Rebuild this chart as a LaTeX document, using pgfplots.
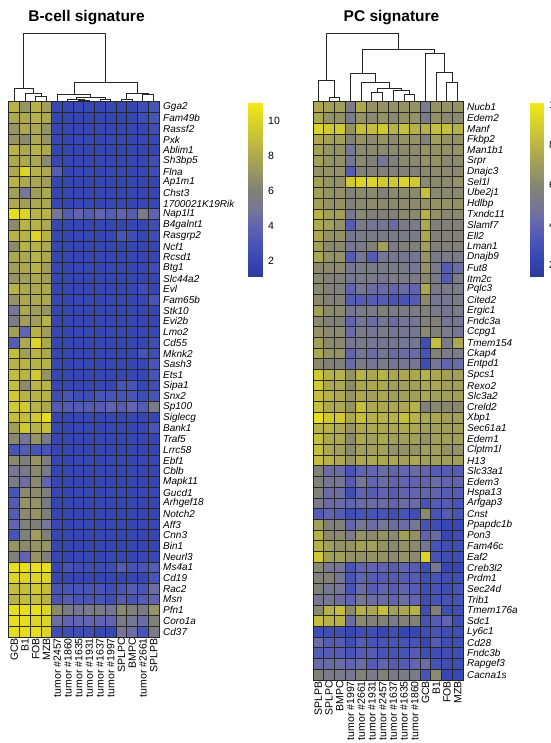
\documentclass[border=0pt]{standalone}
\usepackage{fontspec}
\setmainfont{Liberation Sans}
\usepackage{pgfplots}
\usepackage{pgfplotstable}
\pgfplotsset{compat=1.18}

% blue -> grey -> yellow expression scale
\pgfplotsset{
  colormap={bgy}{rgb255=(44,56,155) rgb255=(54,70,178) rgb255=(72,84,182)
    rgb255=(98,100,178) rgb255=(118,118,150) rgb255=(128,128,122)
    rgb255=(150,148,100) rgb255=(172,168,80) rgb255=(196,190,60)
    rgb255=(220,212,40) rgb255=(242,232,24)},
  hmcell/.style={scatter, only marks, mark=square*, mark size=5.36pt,
    point meta=explicit,
    scatter/use mapped color={draw=black!85, fill=mapped color},
    mark options={line width=1pt}},
  dendro/.style={draw=black!85, line width=0.9pt, mark=none, point meta=none},
  hmaxis/.style={anchor=center, scale only axis, width=150pt,
    xmin=-0.5, xmax=13.5, y dir=reverse,
    axis line style={draw=black!85, line width=1pt},
    major tick length=0pt, xtick={0,...,13},
    x tick label style={rotate=90, anchor=east, inner sep=1pt,
      font=\fontsize{10.5}{12}\selectfont},
    yticklabel pos=right,
    y tick label style={anchor=west, inner sep=0pt, xshift=4pt,
      font=\fontsize{10}{11}\selectfont\itshape},
    colormap name=bgy},
  dendroaxis/.style={anchor=center, scale only axis, width=150pt, height=70pt,
    xmin=-0.5, xmax=13.5, ymin=0, ymax=70, hide axis, clip=false},
  cbaxis/.style={anchor=center, scale only axis, width=14pt, height=174pt,
    xmin=0, xmax=1, colormap name=bgy, axis line style={draw=none},
    xtick=\empty, ytick={2,4,6,8,10}, major tick length=0pt,
    yticklabel pos=right,
    y tick label style={anchor=west, inner sep=0pt, xshift=6pt,
      font=\fontsize{10.5}{12}\selectfont},
    /pgf/number format/assume math mode=true}
}

% B-cell signature genes (columns in the clustered order of the panel)
\pgfplotstableread{
c0 c1 c2 c3 c4 c5 c6 c7 c8 c9 c10 c11 c12 c13 gene
8.5 7 8.5 7.5 2 2 2 2 2 2 2 2 2.5 3 Gga2
8 8 8.5 8 2 2 2 2 2 2 2 2 2.5 3 Fam49b
7 8 8 7 2 2 2 2 2 2 2 2 2 2.5 Rassf2
7 6.5 8 7 2 2 2 2 2 2 2 2 2 2 Pxk
8.5 8 8.5 8 2 2 2 2 2 2 2 2 2 2 Ablim1
8 8 8 6.5 2 2 2 2 2 2 2 2 2 2.5 Sh3bp5
8 10 8.5 8 3.5 2 2 2 2 2 2 2 2 2.5 Flna
8.5 8 8 7.5 2 2 2 2 2 2 2 2 2 2 Ap1m1
7.5 5 7.5 8 2 2 2 2 2 2 2 2 2 2 Chst3
8 7.5 8 8 2 2 2 2 2 2 2 2 2 2 1700021K19Rik
10.5 10 8.5 8.5 5 3.5 4 3.5 4 3.5 4 3.5 5.5 4 Nap1l1
6.5 8.5 8.5 8 2 2 2 2 2 2 2 2 2 2.5 B4galnt1
8.5 8.5 10 8.5 2 2 2 2 2 2 3 2.5 2 2.5 Rasgrp2
6.5 8.5 8.5 8 2 2 2 2 2 2 2 2 2 2 Ncf1
8 8 8.5 8 2 2 2 2 2 2 2 2 2 2 Rcsd1
7.5 8 8.5 7.5 2 2 2 2 2 2 2 2 2 2.5 Btg1
7 7.5 8 7.5 2 2 2 2 2 2 2 2 2 2 Slc44a2
8.5 8 8 8 2 2 2 2 2 2 2 2 2.5 2 Evl
7 8 8 8 2 2 2 2 2 2 2 2 2 3 Fam65b
5 8 7.5 7 2 2 2 2 2 2 2 2 2 2 Stk10
5.5 7.5 7.5 8.5 2 2 2 2 2 2 2 2 2 2 Evi2b
7.5 4 8.5 7.5 2 2 2 2 2 2 2 2 2 2 Lmo2
3.5 8 10 8 2 2 2 2 2 2 2 2 2 2.5 Cd55
9 7.5 8.5 8 2 2 2 2 2 2 2 2 3 2.5 Mknk2
8.5 8.5 8.5 8.5 2 2 2 2 2 2 2 2 2 3 Sash3
9 8.5 9.5 7 2 2 2 2 2 2 2 2 2 3 Ets1
9 6.5 8.5 8.5 2 2 2 2 2 2 3 3 2 2.5 Sipa1
9.5 8.5 8.5 8.5 2.5 3 2.5 2.5 3 3 3 3 2.5 3 Snx2
9.5 9.5 8.5 8 3.5 3.5 3.5 3.5 3.5 4 3.5 4 3.5 5.5 Sp100
9 9 9.5 10.5 2 2 2 2 2 2 2 2 2 2 Siglecg
7.5 9.5 8.5 9 2 2 2 2 2 2 2 2 2 3 Bank1
6.5 5 7 5.5 2 2 2 2 2 2 2 2 2 2 Traf5
3 3.5 3 3 2 2 2 2 2 2 2 2 2 2 Lrrc58
6.5 6 7 6 2 2 2 2 2 2 2 2 2 2 Ebf1
5 5.5 6.5 5.5 2 2 2 2 2 2 2 2 2 2 Cblb
5.5 4.5 6.5 4 2 2 2 2 2 2 2 2 2 2 Mapk11
3 6.5 6.5 6 2 2 2 2 2 2 2 2 2 2 Gucd1
3.5 7 7 5.5 2 2 2 2 2 2 2 2 2 2 Arhgef18
3.5 6.5 7 6 2 2 2 2 2 2 2 2 2 2 Notch2
4 6 6 5 2 2 2 2 2 2 2 2 2 2 Aff3
3 6 7.5 6 2 2 2 2 2 2 2 2 2 2 Cnn3
7 6.5 7 7 2 2 2 2 2 2 2 2 2 2 Bin1
6 4 7 6 2 2 2 2 2 2 2 2 2 2 Neurl3
10.5 10.5 10.5 10.5 2 3 2.5 2.5 2.5 2.5 3.5 3 3 3.5 Ms4a1
10 10 10 10 2 2 2 2 2 2 2 2 2 3 Cd19
9 9 9.5 9 3 3 3 3 3 2.5 3 3.5 3 4.5 Rac2
8.5 9 9 8.5 3 3.5 3 3 3 2.5 3.5 3 3.5 4 Msn
10.5 10.5 10.5 10 6.5 5.5 5 5.5 5.5 5 6.5 6 5.5 7 Pfn1
10.5 10.5 10 10 4.5 4 4 4 4 4 5.5 5 4.5 6 Coro1a
10.5 10.5 10.5 10 2.5 2.5 2.5 2.5 2 2 5 4.5 3 5.5 Cd37
}\Bdata

% plasma-cell signature genes
\pgfplotstableread{
c0 c1 c2 c3 c4 c5 c6 c7 c8 c9 c10 c11 c12 c13 gene
7.5 7.1 7.1 5.3 7.5 6.6 6.6 6.6 6.6 6.6 5.3 6.6 6.6 6.6 Nucb1
7.5 6.6 6.6 5.3 6.6 6.2 6.6 6.2 6.6 6.6 5.3 6.6 6.2 6.2 Edem2
9.2 8.8 8.8 6.6 8.4 8.4 8.8 7.9 8.4 7.9 7.9 8.4 8.4 7.9 Manf
7.5 7.1 7.1 5.8 6.6 6.2 6.6 6.2 6.6 6.6 5.8 7.1 6.6 6.6 Fkbp2
7.1 6.6 6.6 4.9 6.2 6.2 6.2 6.2 6.2 6.2 6.6 6.6 6.6 6.6 Man1b1
7.1 6.6 6.6 4.9 6.2 5.8 4.9 5.8 6.2 6.2 6.6 6.6 6.2 6.2 Srpr
6.6 6.6 6.6 3.6 5.8 5.8 5.8 5.8 5.8 5.8 6.2 6.2 6.2 6.2 Dnajc3
7.1 6.6 6.6 8.8 9.2 9.2 8.8 8.8 9.2 8.8 6.2 6.2 6.2 6.6 Sel1l
7.1 6.6 6.6 5.8 6.2 6.2 5.8 6.2 6.2 6.2 8.4 6.2 6.2 6.2 Ube2j1
7.1 6.6 6.6 5.8 6.2 6.2 6.2 6.2 6.2 6.2 6.6 6.6 6.6 6.6 Hdlbp
7.9 7.1 7.1 4.9 6.2 5.8 5.8 5.8 6.2 6.2 7.9 6.6 6.2 6.2 Txndc11
7.5 7.1 6.6 3.6 5.3 4.9 4.9 4.4 5.3 5.3 7.5 5.8 5.8 5.8 Slamf7
7.5 6.6 6.6 4.9 5.3 5.3 5.3 5.3 5.3 5.3 7.5 5.8 5.8 5.8 Ell2
7.1 6.2 6.2 4.9 5.3 5.8 7.1 5.3 5.8 5.8 7.1 5.8 5.8 5.8 Lman1
7.5 6.6 6.6 3.6 4.9 3.6 4.9 4.9 4.9 4.9 6.6 5.3 5.3 5.3 Dnajb9
6.2 6.2 6.2 4.9 5.3 5.3 5.3 5.3 5.3 4.9 6.6 5.3 3.6 4.4 Fut8
6.2 5.8 5.8 4.9 5.3 5.3 4.9 5.3 5.3 5.3 6.2 5.3 3.6 5.3 Itm2c
6.2 5.8 5.8 4.0 4.9 4.4 4.4 4.0 4.4 4.0 7.5 5.3 5.3 5.3 Pqlc3
6.2 5.8 5.8 3.6 3.6 3.6 3.6 3.1 3.1 3.6 6.2 4.9 4.9 5.3 Cited2
7.1 6.2 6.2 4.9 5.3 5.3 5.8 5.3 5.3 5.3 5.8 5.3 4.9 5.3 Ergic1
6.2 5.8 5.8 4.0 4.9 4.4 4.9 4.4 4.9 4.9 5.8 5.8 4.9 4.9 Fndc3a
6.6 6.2 6.2 4.4 5.3 4.9 5.3 4.9 4.9 4.9 6.2 5.8 5.3 4.9 Ccpg1
7.1 6.2 6.2 4.9 5.3 4.9 4.9 4.9 4.9 4.9 2.7 8.4 5.3 7.5 Tmem154
7.5 6.6 6.6 4.0 4.9 4.4 4.9 4.4 4.4 4.4 3.1 5.8 5.3 5.3 Ckap4
6.2 5.8 5.8 4.4 5.3 4.9 5.3 4.9 4.9 4.9 2.7 4.9 4.0 4.4 Entpd1
8.8 7.9 7.9 6.6 7.9 7.5 7.9 7.5 7.5 7.5 7.9 7.5 7.1 7.1 Spcs1
8.8 7.5 7.5 6.2 7.5 7.5 7.5 7.1 7.1 7.1 7.5 7.5 7.1 7.1 Rexo2
8.4 7.9 7.5 6.6 7.5 7.1 7.5 7.1 7.1 7.1 7.5 7.1 7.1 7.1 Slc3a2
8.4 7.5 7.5 6.6 8.4 7.5 7.5 7.5 7.5 7.9 5.8 6.2 6.2 6.2 Creld2
9.7 8.8 8.8 7.5 8.4 7.9 7.9 7.9 8.4 7.9 7.5 7.5 7.1 7.1 Xbp1
7.9 7.9 7.5 6.6 7.5 7.5 7.5 7.5 7.5 7.5 7.1 7.1 7.1 7.1 Sec61a1
8.4 7.5 7.5 6.2 7.5 7.1 7.5 7.1 7.1 7.1 6.6 7.1 7.1 7.1 Edem1
8.4 7.5 7.1 6.2 7.1 7.1 7.1 6.6 6.6 6.6 7.1 7.1 6.6 6.6 Clptm1l
8.4 7.9 7.5 6.6 7.5 7.5 7.5 7.5 7.1 7.5 7.1 7.1 7.1 7.1 H13
5.8 4.4 4.4 3.1 4.0 4.0 4.4 4.0 4.0 4.4 4.0 3.6 3.6 3.6 Slc33a1
5.8 4.9 4.9 3.6 4.9 4.0 4.4 4.0 4.0 4.0 4.0 4.4 4.0 4.0 Edem3
5.8 4.4 4.4 2.7 4.0 3.6 4.0 3.6 4.0 4.0 4.0 4.0 3.6 3.6 Hspa13
5.3 4.4 4.4 4.0 4.4 4.4 4.4 4.0 4.4 4.4 3.1 3.6 3.6 3.1 Arfgap3
3.6 4.0 3.6 2.7 3.1 3.1 3.1 2.7 3.1 2.7 6.2 3.1 3.6 3.1 Cnst
7.1 5.8 5.8 4.0 4.9 4.4 4.9 4.4 4.4 4.9 3.1 2.7 2.3 2.3 Ppapdc1b
7.9 6.2 6.2 5.3 6.6 6.2 6.6 6.2 7.1 6.6 4.0 4.4 2.3 2.7 Pon3
7.9 7.1 6.6 6.6 7.1 7.1 6.6 6.2 6.6 6.2 4.9 3.1 2.7 2.7 Fam46c
8.8 7.1 7.1 6.6 6.6 6.6 6.6 6.2 6.6 6.2 9.2 3.1 2.7 2.7 Eaf2
6.2 4.9 4.9 3.1 4.0 4.0 4.0 3.6 4.0 3.6 2.7 4.9 2.3 2.3 Creb3l2
5.8 5.8 4.9 3.1 4.0 3.6 3.6 3.6 3.6 3.6 2.7 3.1 2.7 2.7 Prdm1
5.8 4.9 4.9 3.1 4.4 3.6 4.0 3.6 4.0 3.6 2.7 3.1 2.7 3.1 Sec24d
4.9 4.9 4.4 4.0 4.9 4.4 4.4 4.0 4.4 4.0 2.7 3.1 3.1 3.1 Trib1
6.2 7.9 8.4 6.2 7.9 7.5 8.4 7.1 7.5 7.9 2.7 5.8 2.7 2.7 Tmem176a
8.4 7.9 7.9 4.4 6.2 5.8 5.8 5.3 5.8 5.8 3.1 3.6 4.0 2.7 Sdc1
2.7 2.7 2.7 2.3 2.7 2.7 2.3 2.7 2.3 2.3 2.7 3.1 2.7 2.7 Ly6c1
4.4 3.6 3.6 2.7 3.6 3.1 3.1 3.1 3.1 3.1 2.3 3.6 2.7 2.7 Cd28
3.6 3.6 3.6 3.1 3.6 3.6 3.1 3.1 3.1 3.6 2.7 2.7 2.7 2.7 Fndc3b
4.4 4.4 4.4 4.0 4.4 3.6 4.0 3.6 3.6 4.0 4.4 3.1 2.7 2.7 Rapgef3
5.8 5.3 5.3 4.9 5.8 5.3 5.8 5.3 5.3 5.3 3.1 6.2 2.3 2.3 Cacna1s
}\PCdata

\begin{document}
\begin{tikzpicture}[x=1pt, y=1pt]
\useasboundingbox (0,0) rectangle (550,743);
\clip (0,0) rectangle (550,743);

% ---------- B-cell signature ----------
\node[anchor=base, font=\fontsize{15.5}{18}\selectfont\bfseries] at (86.5pt,721pt) {B-cell signature};

\begin{axis}[hmaxis, at={(84pt,373.5pt)}, height=535pt,
  ymin=-0.5, ymax=49.5, ytick={0,...,49},
  yticklabels from table={\Bdata}{gene},
  xticklabels={GCB, B1, FOB, MZB, tumor \#2457, tumor \#1860, tumor \#1635,
    tumor \#1931, tumor \#1637, tumor \#1997, SPLPC, BMPC, tumor \#2661, SPLPB},
  point meta min=1, point meta max=11]
\pgfplotsinvokeforeach{0,...,13}{
  \addplot[hmcell] table[x expr=#1, y expr=\coordindex, meta=c#1] {\Bdata};
}
\end{axis}

\begin{axis}[dendroaxis, at={(84pt,676pt)}]
\addplot[dendro] coordinates {(2,0) (2,5.3) (3,5.3) (3,0)};
\addplot[dendro] coordinates {(1,0) (1,8.7) (2.5,8.7) (2.5,5.3)};
\addplot[dendro] coordinates {(0,0) (0,14) (1.75,14) (1.75,8.7)};
\addplot[dendro] coordinates {(6,0) (6,2) (7,2) (7,0)};
\addplot[dendro] coordinates {(5,0) (5,2.8) (6.5,2.8) (6.5,2)};
\addplot[dendro] coordinates {(8,0) (8,2.5) (9,2.5) (9,0)};
\addplot[dendro] coordinates {(5.75,2.8) (5.75,4.5) (8.5,4.5) (8.5,2.5)};
\addplot[dendro] coordinates {(4,0) (4,8) (7.125,8) (7.125,4.5)};
\addplot[dendro] coordinates {(10,0) (10,3) (11,3) (11,0)};
\addplot[dendro] coordinates {(12,0) (12,7.5) (13,7.5) (13,0)};
\addplot[dendro] coordinates {(10.5,3) (10.5,9) (12.5,9) (12.5,7.5)};
\addplot[dendro] coordinates {(5.5625,8) (5.5625,19.7) (11.5,19.7) (11.5,9)};
\addplot[dendro] coordinates {(0.875,14) (0.875,69) (8.53,69) (8.53,19.7)};
\end{axis}

\begin{axis}[cbaxis, at={(255pt,553pt)}, ymin=1.09, ymax=11.03,
  point meta min=1, point meta max=11]
\addplot[surf, shader=interp, mesh/cols=2, point meta=y] coordinates {
  (0,1.09) (1,1.09) (0,2) (1,2) (0,3) (1,3) (0,4) (1,4) (0,5) (1,5)
  (0,6) (1,6) (0,7) (1,7) (0,8) (1,8) (0,9) (1,9) (0,10) (1,10)
  (0,11.03) (1,11.03)};
\end{axis}

% ---------- PC signature ----------
\node[anchor=base, font=\fontsize{15.5}{18}\selectfont\bfseries] at (391.5pt,721pt) {PC signature};

\begin{axis}[hmaxis, at={(388pt,352pt)}, height=578pt,
  ymin=-0.5, ymax=53.5, ytick={0,...,53},
  yticklabels from table={\PCdata}{gene},
  xticklabels={SPLPB, SPLPC, BMPC, tumor \#1997, tumor \#2661, tumor \#1931,
    tumor \#2457, tumor \#1637, tumor \#1635, tumor \#1860, GCB, B1, FOB, MZB},
  point meta min=1.4, point meta max=10.1]
\pgfplotsinvokeforeach{0,...,13}{
  \addplot[hmcell] table[x expr=#1, y expr=\coordindex, meta=c#1] {\PCdata};
}
\end{axis}

\begin{axis}[dendroaxis, at={(388pt,676pt)}]
\addplot[dendro] coordinates {(1,0) (1,4.3) (2,4.3) (2,0)};
\addplot[dendro] coordinates {(0,0) (0,22) (1.5,22) (1.5,4.3)};
\addplot[dendro] coordinates {(5,0) (5,9.3) (6,9.3) (6,0)};
\addplot[dendro] coordinates {(8,0) (8,8) (9,8) (9,0)};
\addplot[dendro] coordinates {(7,0) (7,12) (8.5,12) (8.5,8)};
\addplot[dendro] coordinates {(5.5,9.3) (5.5,13.7) (7.75,13.7) (7.75,12)};
\addplot[dendro] coordinates {(4,0) (4,19.3) (6.625,19.3) (6.625,13.7)};
\addplot[dendro] coordinates {(3,0) (3,28.7) (5.3125,28.7) (5.3125,19.3)};
\addplot[dendro] coordinates {(12,0) (12,20) (13,20) (13,0)};
\addplot[dendro] coordinates {(11,0) (11,30) (12.5,30) (12.5,20)};
\addplot[dendro] coordinates {(10,0) (10,49) (11.75,49) (11.75,30)};
\addplot[dendro] coordinates {(4.156,28.7) (4.156,53) (10.875,53) (10.875,49)};
\addplot[dendro] coordinates {(0.75,22) (0.75,69) (7.516,69) (7.516,53)};
\end{axis}

\begin{axis}[cbaxis, width=13pt, at={(536.5pt,553pt)}, ymin=1.4, ymax=10.1,
  point meta min=1.4, point meta max=10.1]
\addplot[surf, shader=interp, mesh/cols=2, point meta=y] coordinates {
  (0,1.4) (1,1.4) (0,2) (1,2) (0,3) (1,3) (0,4) (1,4) (0,5) (1,5)
  (0,6) (1,6) (0,7) (1,7) (0,8) (1,8) (0,9) (1,9) (0,10.1) (1,10.1)};
\end{axis}
\end{tikzpicture}
\end{document}
